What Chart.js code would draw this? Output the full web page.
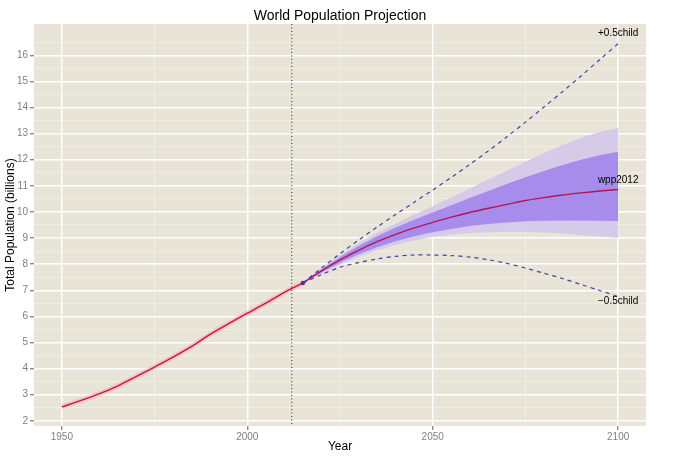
<!DOCTYPE html>
<html>
<head>
<meta charset="utf-8">
<script src="https://cdn.jsdelivr.net/npm/chart.js@4/dist/chart.umd.min.js"></script>
<style>
  html, body { margin: 0; padding: 0; background: #ffffff; }
  #wrap { width: 680px; height: 469px; }
</style>
</head>
<body>
<div id="wrap"><canvas id="popChart" width="680" height="469"></canvas></div>
<script>
// observed estimates, 1950-2015
var histYears = [1950, 1955, 1960, 1965, 1970, 1975, 1980, 1985, 1990, 1995, 2000, 2005, 2010, 2015];
var histPop = [2.53, 2.77, 3.03, 3.33, 3.69, 4.06, 4.44, 4.85, 5.31, 5.72, 6.12, 6.51, 6.92, 7.28];

// projections 2015-2100
var projYears = [2015, 2020, 2025, 2030, 2035, 2040, 2045, 2050, 2055, 2060, 2065, 2070, 2075, 2080, 2085, 2090, 2095, 2100];
var median = [7.28, 7.74, 8.16, 8.53, 8.86, 9.14, 9.39, 9.6, 9.8, 9.98, 10.14, 10.29, 10.44, 10.55, 10.65, 10.73, 10.8, 10.86];
var lo95 = [7.27, 7.63, 7.98, 8.28, 8.53, 8.74, 8.91, 9.05, 9.14, 9.19, 9.22, 9.24, 9.24, 9.21, 9.17, 9.12, 9.06, 9.0];
var lo80 = [7.27, 7.68, 8.05, 8.38, 8.65, 8.88, 9.07, 9.22, 9.35, 9.46, 9.54, 9.6, 9.64, 9.66, 9.67, 9.67, 9.66, 9.65];
var hi80 = [7.29, 7.8, 8.27, 8.7, 9.07, 9.4, 9.7, 9.98, 10.26, 10.53, 10.8, 11.07, 11.33, 11.57, 11.8, 12.0, 12.17, 12.31];
var hi95 = [7.29, 7.85, 8.34, 8.8, 9.2, 9.56, 9.9, 10.22, 10.56, 10.9, 11.24, 11.58, 11.92, 12.25, 12.56, 12.84, 13.06, 13.22];
var plusHalf = [7.28, 7.85, 8.4, 8.92, 9.42, 9.9, 10.37, 10.84, 11.32, 11.82, 12.34, 12.88, 13.44, 14.02, 14.61, 15.21, 15.83, 16.45];
var minusHalf = [7.28, 7.6, 7.88, 8.06, 8.2, 8.3, 8.35, 8.35, 8.33, 8.27, 8.17, 8.03, 7.85, 7.65, 7.45, 7.22, 6.99, 6.76];

var cutYear = 2012;
var xTickLabels = [1950, 2000, 2050, 2100];
var yTickLabels = [2, 3, 4, 5, 6, 7, 8, 9, 10, 11, 12, 13, 14, 15, 16];
var seriesLabels = ['+0.5child', 'wpp2012', '\u22120.5child'];

function pts(xs, ys) {
    return xs.map(function (x, i) { return { x: x, y: ys[i] }; });
}

var panelBg = {
    id: 'panelBg',
    beforeDraw: function (chart) {
        var a = chart.chartArea;
        var ctx = chart.ctx;
        ctx.save();
        ctx.fillStyle = '#e8e4d7';
        ctx.fillRect(a.left, a.top, a.right - a.left, a.bottom - a.top);
        ctx.restore();
    }
};

var textBits = {
    id: 'textBits',
    afterDraw: function (chart) {
        var ctx = chart.ctx;
        var xs = chart.scales.x, ys = chart.scales.y;
        var last = projYears.length - 1;
        var ends = [plusHalf[last], median[last], minusHalf[last]];
        ctx.save();
        ctx.fillStyle = '#000000';
        ctx.textAlign = 'center';
        ctx.font = '14px "Liberation Sans", Arial, sans-serif';
        ctx.textBaseline = 'middle';
        ctx.fillText('World Population Projection', (chart.chartArea.left + chart.chartArea.right) / 2, 16);
        ctx.font = '10px "Liberation Sans", Arial, sans-serif';
        var px = xs.getPixelForValue(projYears[last]);
        ctx.fillText(seriesLabels[0], px, ys.getPixelForValue(ends[0]) - 10.5);
        ctx.fillText(seriesLabels[1], px, ys.getPixelForValue(ends[1]) - 9.5);
        ctx.fillText(seriesLabels[2], px, ys.getPixelForValue(ends[2]) + 5);
        ctx.restore();
    }
};

var majorX = function (v) { return xTickLabels.indexOf(v) >= 0; };
var majorY = function (v) { return yTickLabels.indexOf(v) >= 0; };

var ctx = document.getElementById('popChart').getContext('2d');
var chart = new Chart(ctx, {
    type: 'line',
    data: {
        datasets: [
            {
                label: 'lo95', data: pts(projYears, lo95),
                borderWidth: 0, pointRadius: 0, fill: false, order: 20
            },
            {
                label: 'hi95', data: pts(projYears, hi95),
                borderWidth: 0, pointRadius: 0, fill: '-1',
                backgroundColor: 'rgba(212,200,232,0.95)', order: 19
            },
            {
                label: 'lo80', data: pts(projYears, lo80),
                borderWidth: 0, pointRadius: 0, fill: false, order: 18
            },
            {
                label: 'hi80', data: pts(projYears, hi80),
                borderWidth: 0, pointRadius: 0, fill: '-1',
                backgroundColor: 'rgba(164,136,236,0.95)', order: 17
            },
            {
                label: 'halo', data: pts(histYears, histPop),
                borderColor: 'rgba(242,160,180,0.45)', borderWidth: 5,
                pointRadius: 0, fill: false, tension: 0.3, order: 6
            },
            {
                label: 'observed', data: pts(histYears, histPop),
                borderColor: '#cc1638', borderWidth: 1.4,
                pointRadius: 0, fill: false, tension: 0.3, order: 5
            },
            {
                label: 'wpp2012', data: pts(projYears, median),
                borderColor: '#b3145a', borderWidth: 1.4,
                pointRadius: 0, fill: false, tension: 0.3, order: 4
            },
            {
                label: '+0.5child', data: pts(projYears, plusHalf),
                borderColor: '#4b3ca6', borderWidth: 1.2, borderDash: [4, 4],
                pointRadius: 0, fill: false, tension: 0.3, order: 3
            },
            {
                label: '-0.5child', data: pts(projYears, minusHalf),
                borderColor: '#4b3ca6', borderWidth: 1.2, borderDash: [4, 4],
                pointRadius: function (c) { return c.dataIndex === 0 ? 2.2 : 0; },
                pointBackgroundColor: '#6a2c8a', pointBorderWidth: 0,
                fill: false, tension: 0.3, order: 2
            },
            {
                label: 'cut', data: [{ x: cutYear, y: 0 }, { x: cutYear, y: 20 }],
                borderColor: '#222222', borderWidth: 1, borderDash: [1, 2.5],
                pointRadius: 0, fill: false, order: 1
            }
        ]
    },
    options: {
        responsive: false,
        animation: false,
        events: [],
        layout: { padding: { top: 24, right: 34, left: 0, bottom: 0 } },
        plugins: {
            legend: { display: false },
            title: { display: false },
            tooltip: { enabled: false }
        },
        scales: {
            x: {
                type: 'linear',
                min: 1942.5, max: 2107.5,
                border: { display: false },
                grid: {
                    color: function (c) { return majorX(c.tick.value) ? '#ffffff' : 'rgba(255,255,255,0.45)'; },
                    lineWidth: function (c) { return majorX(c.tick.value) ? 1.4 : 0.8; },
                    tickColor: function (c) { return majorX(c.tick.value) ? '#8a8a8a' : 'rgba(0,0,0,0)'; },
                    tickLength: 4
                },
                ticks: {
                    stepSize: 25, includeBounds: false, autoSkip: false, maxRotation: 0,
                    padding: 1, color: '#7f7f7f',
                    font: { size: 10, family: '"Liberation Sans", Arial, sans-serif' },
                    callback: function (v) { return majorX(v) ? String(v) : ''; }
                },
                title: {
                    display: true, text: 'Year', color: '#000000',
                    font: { size: 12, family: '"Liberation Sans", Arial, sans-serif' },
                    padding: { top: 0, bottom: 15 }
                },
                afterFit: function (s) { s.height = 43; }
            },
            y: {
                type: 'linear',
                min: 1.8, max: 17.2,
                border: { display: false },
                grid: {
                    color: function (c) {
                        if (majorY(c.tick.value)) return '#ffffff';
                        return c.tick.value < 17 ? 'rgba(255,255,255,0.45)' : 'rgba(0,0,0,0)';
                    },
                    lineWidth: function (c) { return majorY(c.tick.value) ? 1.4 : 0.8; },
                    tickColor: function (c) { return majorY(c.tick.value) ? '#8a8a8a' : 'rgba(0,0,0,0)'; },
                    tickLength: 4
                },
                ticks: {
                    stepSize: 0.5, includeBounds: false, autoSkip: false,
                    padding: 2, color: '#7f7f7f',
                    font: { size: 10, family: '"Liberation Sans", Arial, sans-serif' },
                    callback: function (v) { return majorY(v) ? String(v) : ''; }
                },
                title: {
                    display: true, text: 'Total Population (billions)', color: '#000000',
                    font: { size: 12, family: '"Liberation Sans", Arial, sans-serif' },
                    padding: { top: 3, bottom: 0 }
                },
                afterFit: function (s) { s.width = 34; }
            }
        }
    },
    plugins: [panelBg, textBits]
});
</script>
</body>
</html>
